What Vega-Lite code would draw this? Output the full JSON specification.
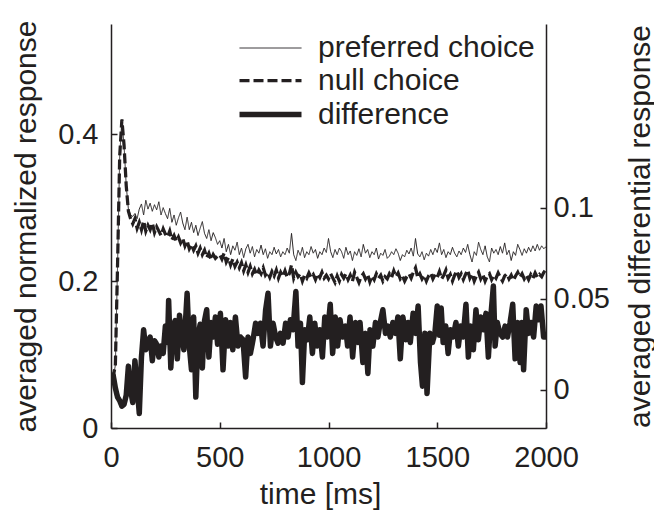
{
"$schema": "https://vega.github.io/schema/vega-lite/v6.json",
"width": 435, "height": 404,
"autosize": {"type": "none"},
"padding": {"left": 111, "top": 24, "right": 108, "bottom": 84},
"background": "white",
"config": {
  "font": "Liberation Sans",
  "view": {"stroke": null},
  "axis": {"domainColor": "#231f20", "tickColor": "#231f20", "labelColor": "#231f20", "titleColor": "#231f20", "grid": false, "labelFontSize": 29, "titleFontSize": 30, "titleFontWeight": "normal", "domainWidth": 1.5, "tickWidth": 1.5, "labelFont": "Liberation Sans", "titleFont": "Liberation Sans"},
  "legend": {"labelFont": "Liberation Sans"}
},
"datasets": {
"pn": [
{"t":0,"p":0.072,"n":0.072},{"t":10,"p":0.07,"n":0.07},{"t":20,"p":0.085,"n":0.085},{"t":30,"p":0.22,"n":0.22},{"t":40,"p":0.37,"n":0.37},{"t":50,"p":0.42,"n":0.42},{"t":60,"p":0.385,"n":0.385},{"t":70,"p":0.33,"n":0.33},{"t":80,"p":0.298,"n":0.295},{"t":90,"p":0.29,"n":0.285},
{"t":100,"p":0.288,"n":0.278},{"t":110,"p":0.292,"n":0.285},{"t":120,"p":0.285,"n":0.272},{"t":130,"p":0.298,"n":0.28},{"t":140,"p":0.305,"n":0.27},{"t":150,"p":0.29,"n":0.282},{"t":160,"p":0.31,"n":0.268},{"t":170,"p":0.298,"n":0.276},{"t":180,"p":0.306,"n":0.27},{"t":190,"p":0.295,"n":0.279},
{"t":200,"p":0.304,"n":0.266},{"t":210,"p":0.297,"n":0.274},{"t":220,"p":0.308,"n":0.268},{"t":230,"p":0.29,"n":0.262},{"t":240,"p":0.3,"n":0.271},{"t":250,"p":0.292,"n":0.264},{"t":260,"p":0.285,"n":0.26},{"t":270,"p":0.299,"n":0.268},{"t":280,"p":0.28,"n":0.256},{"t":290,"p":0.29,"n":0.262},
{"t":300,"p":0.276,"n":0.254},{"t":310,"p":0.286,"n":0.26},{"t":320,"p":0.294,"n":0.252},{"t":330,"p":0.279,"n":0.258},{"t":340,"p":0.27,"n":0.248},{"t":350,"p":0.287,"n":0.255},{"t":360,"p":0.27,"n":0.244},{"t":370,"p":0.28,"n":0.25},{"t":380,"p":0.266,"n":0.242},{"t":390,"p":0.276,"n":0.248},
{"t":400,"p":0.262,"n":0.238},{"t":410,"p":0.272,"n":0.245},{"t":420,"p":0.281,"n":0.236},{"t":430,"p":0.265,"n":0.242},{"t":440,"p":0.258,"n":0.232},{"t":450,"p":0.27,"n":0.238},{"t":460,"p":0.255,"n":0.229},{"t":470,"p":0.266,"n":0.236},{"t":480,"p":0.259,"n":0.231},{"t":490,"p":0.25,"n":0.234},
{"t":500,"p":0.255,"n":0.236},{"t":510,"p":0.245,"n":0.23},{"t":520,"p":0.258,"n":0.238},{"t":530,"p":0.24,"n":0.226},{"t":540,"p":0.25,"n":0.232},{"t":550,"p":0.236,"n":0.222},{"t":560,"p":0.248,"n":0.23},{"t":570,"p":0.242,"n":0.22},{"t":580,"p":0.253,"n":0.226},{"t":590,"p":0.236,"n":0.218},
{"t":600,"p":0.245,"n":0.225},{"t":610,"p":0.232,"n":0.214},{"t":620,"p":0.244,"n":0.222},{"t":630,"p":0.25,"n":0.212},{"t":640,"p":0.238,"n":0.22},{"t":650,"p":0.247,"n":0.21},{"t":660,"p":0.233,"n":0.216},{"t":670,"p":0.243,"n":0.208},{"t":680,"p":0.238,"n":0.215},{"t":690,"p":0.249,"n":0.21},
{"t":700,"p":0.236,"n":0.218},{"t":710,"p":0.244,"n":0.208},{"t":720,"p":0.231,"n":0.212},{"t":730,"p":0.24,"n":0.205},{"t":740,"p":0.236,"n":0.213},{"t":750,"p":0.246,"n":0.207},{"t":760,"p":0.237,"n":0.215},{"t":770,"p":0.243,"n":0.204},{"t":780,"p":0.233,"n":0.212},{"t":790,"p":0.24,"n":0.206},
{"t":800,"p":0.236,"n":0.214},{"t":810,"p":0.245,"n":0.205},{"t":820,"p":0.238,"n":0.21},{"t":830,"p":0.265,"n":0.222},{"t":840,"p":0.236,"n":0.204},{"t":850,"p":0.228,"n":0.212},{"t":860,"p":0.242,"n":0.206},{"t":870,"p":0.235,"n":0.21},{"t":880,"p":0.246,"n":0.2},{"t":890,"p":0.232,"n":0.208},
{"t":900,"p":0.24,"n":0.204},{"t":910,"p":0.236,"n":0.211},{"t":920,"p":0.247,"n":0.205},{"t":930,"p":0.238,"n":0.209},{"t":940,"p":0.243,"n":0.202},{"t":950,"p":0.231,"n":0.21},{"t":960,"p":0.24,"n":0.205},{"t":970,"p":0.236,"n":0.212},{"t":980,"p":0.245,"n":0.204},{"t":990,"p":0.239,"n":0.208},
{"t":1000,"p":0.258,"n":0.203},{"t":1010,"p":0.24,"n":0.21},{"t":1020,"p":0.232,"n":0.204},{"t":1030,"p":0.243,"n":0.198},{"t":1040,"p":0.236,"n":0.207},{"t":1050,"p":0.245,"n":0.2},{"t":1060,"p":0.24,"n":0.209},{"t":1070,"p":0.231,"n":0.204},{"t":1080,"p":0.246,"n":0.21},{"t":1090,"p":0.236,"n":0.202},
{"t":1100,"p":0.241,"n":0.208},{"t":1110,"p":0.228,"n":0.2},{"t":1120,"p":0.24,"n":0.212},{"t":1130,"p":0.235,"n":0.205},{"t":1140,"p":0.244,"n":0.198},{"t":1150,"p":0.233,"n":0.206},{"t":1160,"p":0.25,"n":0.21},{"t":1170,"p":0.238,"n":0.203},{"t":1180,"p":0.243,"n":0.209},{"t":1190,"p":0.232,"n":0.199},
{"t":1200,"p":0.24,"n":0.207},{"t":1210,"p":0.236,"n":0.202},{"t":1220,"p":0.245,"n":0.21},{"t":1230,"p":0.23,"n":0.204},{"t":1240,"p":0.238,"n":0.208},{"t":1250,"p":0.235,"n":0.2},{"t":1260,"p":0.243,"n":0.206},{"t":1270,"p":0.231,"n":0.203},{"t":1280,"p":0.234,"n":0.21},{"t":1290,"p":0.24,"n":0.205},
{"t":1300,"p":0.236,"n":0.214},{"t":1310,"p":0.244,"n":0.206},{"t":1320,"p":0.238,"n":0.211},{"t":1330,"p":0.228,"n":0.203},{"t":1340,"p":0.236,"n":0.207},{"t":1350,"p":0.233,"n":0.2},{"t":1360,"p":0.242,"n":0.206},{"t":1370,"p":0.237,"n":0.21},{"t":1380,"p":0.245,"n":0.204},{"t":1390,"p":0.234,"n":0.212},
{"t":1400,"p":0.258,"n":0.218},{"t":1410,"p":0.237,"n":0.205},{"t":1420,"p":0.233,"n":0.21},{"t":1430,"p":0.24,"n":0.203},{"t":1440,"p":0.229,"n":0.208},{"t":1450,"p":0.238,"n":0.2},{"t":1460,"p":0.234,"n":0.207},{"t":1470,"p":0.243,"n":0.211},{"t":1480,"p":0.236,"n":0.203},{"t":1490,"p":0.245,"n":0.209},
{"t":1500,"p":0.239,"n":0.205},{"t":1510,"p":0.252,"n":0.213},{"t":1520,"p":0.236,"n":0.203},{"t":1530,"p":0.243,"n":0.208},{"t":1540,"p":0.232,"n":0.215},{"t":1550,"p":0.24,"n":0.204},{"t":1560,"p":0.236,"n":0.209},{"t":1570,"p":0.246,"n":0.2},{"t":1580,"p":0.238,"n":0.208},{"t":1590,"p":0.233,"n":0.214},
{"t":1600,"p":0.241,"n":0.205},{"t":1610,"p":0.236,"n":0.21},{"t":1620,"p":0.245,"n":0.202},{"t":1630,"p":0.239,"n":0.209},{"t":1640,"p":0.25,"n":0.215},{"t":1650,"p":0.236,"n":0.204},{"t":1660,"p":0.226,"n":0.21},{"t":1670,"p":0.24,"n":0.2},{"t":1680,"p":0.235,"n":0.207},{"t":1690,"p":0.253,"n":0.212},
{"t":1700,"p":0.243,"n":0.203},{"t":1710,"p":0.236,"n":0.209},{"t":1720,"p":0.248,"n":0.2},{"t":1730,"p":0.233,"n":0.207},{"t":1740,"p":0.226,"n":0.21},{"t":1750,"p":0.245,"n":0.202},{"t":1760,"p":0.238,"n":0.208},{"t":1770,"p":0.243,"n":0.204},{"t":1780,"p":0.236,"n":0.211},{"t":1790,"p":0.247,"n":0.205},
{"t":1800,"p":0.238,"n":0.2},{"t":1810,"p":0.252,"n":0.207},{"t":1820,"p":0.236,"n":0.21},{"t":1830,"p":0.242,"n":0.203},{"t":1840,"p":0.228,"n":0.208},{"t":1850,"p":0.24,"n":0.201},{"t":1860,"p":0.235,"n":0.207},{"t":1870,"p":0.25,"n":0.212},{"t":1880,"p":0.243,"n":0.205},{"t":1890,"p":0.235,"n":0.21},
{"t":1900,"p":0.244,"n":0.203},{"t":1910,"p":0.238,"n":0.208},{"t":1920,"p":0.246,"n":0.202},{"t":1930,"p":0.24,"n":0.209},{"t":1940,"p":0.248,"n":0.204},{"t":1950,"p":0.241,"n":0.211},{"t":1960,"p":0.25,"n":0.205},{"t":1970,"p":0.242,"n":0.209},{"t":1980,"p":0.248,"n":0.206},{"t":1990,"p":0.244,"n":0.212},
{"t":2000,"p":0.247,"n":0.216}
],
"diff": [
{"t":0,"d":0.007},{"t":10,"d":0.008},{"t":20,"d":0.001},{"t":30,"d":-0.004},{"t":40,"d":-0.006},{"t":50,"d":-0.009},{"t":60,"d":-0.008},{"t":70,"d":-0.003},{"t":80,"d":0.013},{"t":90,"d":0.0},
{"t":100,"d":-0.007},{"t":110,"d":0.016},{"t":120,"d":0.002},{"t":130,"d":-0.013},{"t":140,"d":0.018},{"t":150,"d":0.033},{"t":160,"d":0.022},{"t":170,"d":0.026},{"t":180,"d":0.029},{"t":190,"d":0.016},
{"t":200,"d":0.027},{"t":210,"d":0.025},{"t":220,"d":0.018},{"t":230,"d":0.024},{"t":240,"d":0.02},{"t":250,"d":0.035},{"t":260,"d":0.026},{"t":265,"d":0.049},{"t":275,"d":0.012},{"t":285,"d":0.035},
{"t":295,"d":0.038},{"t":305,"d":0.017},{"t":315,"d":0.041},{"t":325,"d":0.03},{"t":335,"d":0.022},{"t":350,"d":0.053},{"t":360,"d":0.024},{"t":370,"d":0.011},{"t":380,"d":0.04},{"t":390,"d":-0.004},
{"t":400,"d":0.03},{"t":410,"d":0.036},{"t":420,"d":0.012},{"t":430,"d":0.038},{"t":440,"d":0.044},{"t":450,"d":0.018},{"t":460,"d":0.037},{"t":470,"d":0.029},{"t":480,"d":0.04},{"t":490,"d":0.025},
{"t":503,"d":0.042},{"t":515,"d":0.011},{"t":527,"d":0.0385},{"t":538,"d":0.024},{"t":549,"d":0.037},{"t":560,"d":0.022},{"t":572,"d":0.04},{"t":584,"d":0.024},{"t":595,"d":0.029},{"t":607,"d":0.0275},
{"t":619,"d":0.007},{"t":630,"d":0.029},{"t":641,"d":0.02},{"t":653,"d":0.0275},{"t":665,"d":0.0366},{"t":676,"d":0.031},{"t":687,"d":0.0366},{"t":699,"d":0.024},{"t":711,"d":0.044},{"t":722,"d":0.053},
{"t":733,"d":0.024},{"t":745,"d":0.0366},{"t":757,"d":0.029},{"t":768,"d":0.0256},{"t":779,"d":0.031},{"t":791,"d":0.0256},{"t":803,"d":0.0366},{"t":814,"d":0.029},{"t":825,"d":0.0385},{"t":837,"d":0.033},
{"t":850,"d":0.054},{"t":860,"d":0.024},{"t":871,"d":0.0366},{"t":880,"d":0.004},{"t":891,"d":0.033},{"t":903,"d":0.0275},{"t":914,"d":0.04},{"t":926,"d":0.02},{"t":937,"d":0.0366},{"t":948,"d":0.024},
{"t":960,"d":0.033},{"t":972,"d":0.018},{"t":983,"d":0.04},{"t":994,"d":0.029},{"t":1008,"d":0.047},{"t":1019,"d":0.02},{"t":1031,"d":0.04},{"t":1042,"d":0.024},{"t":1053,"d":0.0385},{"t":1065,"d":0.029},
{"t":1078,"d":0.035},{"t":1088,"d":0.024},{"t":1099,"d":0.04},{"t":1111,"d":0.018},{"t":1124,"d":0.037},{"t":1135,"d":0.026},{"t":1145,"d":0.037},{"t":1158,"d":0.015},{"t":1170,"d":0.031},{"t":1181,"d":0.009},
{"t":1191,"d":0.033},{"t":1204,"d":0.024},{"t":1216,"d":0.037},{"t":1227,"d":0.029},{"t":1238,"d":0.037},{"t":1250,"d":0.044},{"t":1262,"d":0.031},{"t":1273,"d":0.035},{"t":1284,"d":0.029},{"t":1296,"d":0.037},
{"t":1308,"d":0.031},{"t":1319,"d":0.04},{"t":1330,"d":0.017},{"t":1342,"d":0.04},{"t":1355,"d":0.0275},{"t":1366,"d":0.037},{"t":1376,"d":0.026},{"t":1389,"d":0.042},{"t":1401,"d":0.031},{"t":1412,"d":0.046},
{"t":1423,"d":0.015},{"t":1432,"d":0.002},{"t":1443,"d":0.031},{"t":1453,"d":-0.002},{"t":1466,"d":0.031},{"t":1478,"d":0.026},{"t":1489,"d":0.031},{"t":1500,"d":0.046},{"t":1510,"d":0.03},{"t":1518,"d":0.045},
{"t":1527,"d":0.026},{"t":1539,"d":0.035},{"t":1550,"d":0.02},{"t":1561,"d":0.033},{"t":1573,"d":0.029},{"t":1586,"d":0.037},{"t":1597,"d":0.024},{"t":1608,"d":0.035},{"t":1619,"d":0.029},{"t":1632,"d":0.047},
{"t":1643,"d":0.018},{"t":1653,"d":0.035},{"t":1666,"d":0.022},{"t":1678,"d":0.044},{"t":1689,"d":0.0275},{"t":1700,"d":0.04},{"t":1712,"d":0.033},{"t":1724,"d":0.042},{"t":1735,"d":0.018},{"t":1746,"d":0.04},
{"t":1758,"d":0.057},{"t":1766,"d":0.024},{"t":1776,"d":0.037},{"t":1788,"d":0.031},{"t":1801,"d":0.029},{"t":1812,"d":0.035},{"t":1823,"d":0.029},{"t":1835,"d":0.037},{"t":1847,"d":0.047},{"t":1858,"d":0.017},
{"t":1869,"d":0.037},{"t":1881,"d":0.015},{"t":1889,"d":0.037},{"t":1897,"d":0.011},{"t":1909,"d":0.044},{"t":1920,"d":0.031},{"t":1931,"d":0.037},{"t":1943,"d":0.029},{"t":1955,"d":0.046},{"t":1966,"d":0.0385},
{"t":1977,"d":0.046},{"t":1989,"d":0.029},{"t":2000,"d":0.029}
]
},
"layer": [
  {
    "layer": [
      {
        "data": {"name": "pn"},
        "transform": [{"fold": ["p", "n"], "as": ["series", "value"]}],
        "mark": {"type": "line", "color": "#231f20", "clip": true},
        "encoding": {
          "x": {"field": "t", "type": "quantitative", "scale": {"domain": [0, 2000], "nice": false},
                "axis": {"values": [0, 500, 1000, 1500, 2000], "format": "d", "offset": -6, "tickSize": 6, "domain": false, "labelPadding": 38, "labelBaseline": "alphabetic", "labelFlush": false, "labelOverlap": false, "title": "time [ms]", "titleX": 209, "titleY": 81, "titleBaseline": "alphabetic", "titleAlign": "center"}},
          "y": {"field": "value", "type": "quantitative", "scale": {"domain": [0, 0.55], "nice": false},
                "axis": {"values": [0, 0.2, 0.4], "format": "~g", "offset": -6, "tickSize": 6, "domain": false, "labelPadding": 13, "title": "averaged normalized response", "titleAngle": -90, "titleX": -82, "titleY": 202, "titleBaseline": "alphabetic", "titleAlign": "center"}},
          "strokeDash": {"field": "series", "type": "ordinal", "scale": {"domain": ["p", "n", "d"], "range": [[1, 0], [10, 4], [1, 0]]},
                "legend": {"orient": "none", "legendX": 141, "legendY": 8, "title": null, "symbolType": "M-2,0H2", "symbolSize": 961, "labelFontSize": 30, "labelOffset": 29, "rowPadding": 0, "labelLimit": 400, "labelColor": "#231f20", "labelExpr": "datum.label == 'p' ? 'preferred choice' : datum.label == 'n' ? 'null choice' : 'difference'"}},
          "strokeWidth": {"field": "series", "type": "ordinal", "scale": {"domain": ["p", "n", "d"], "range": [1, 5.5, 5]},
                "legend": {"orient": "none", "legendX": 141, "legendY": 8, "title": null, "symbolType": "M-2,0H2", "symbolSize": 961, "labelFontSize": 30, "labelOffset": 29, "rowPadding": 0, "labelLimit": 400, "labelColor": "#231f20", "labelExpr": "datum.label == 'p' ? 'preferred choice' : datum.label == 'n' ? 'null choice' : 'difference'"}}
        }
      },
      {
        "mark": {"type": "text", "align": "left", "baseline": "middle", "fontSize": 30, "font": "Liberation Sans", "color": "#231f20"},
        "encoding": {"x": {"datum": 145, "type": "quantitative"},
                     "y": {"datum": 0.516, "type": "quantitative", "axis": {"orient": "left", "domain": true, "ticks": false, "labels": false, "title": null}},
                     "text": {"value": "V2"}}
      },
      {
        "mark": {"type": "text", "align": "left", "baseline": "middle", "fontSize": 30, "font": "Liberation Sans", "color": "#231f20"},
        "encoding": {"x": {"datum": 145, "type": "quantitative"}, "y": {"datum": 0.465, "type": "quantitative", "axis": null}, "text": {"value": "n=69"}}
      }
    ],
    "resolve": {"axis": {"y": "independent"}}
  },
  {
    "data": {"name": "diff"},
    "layer": [
      {
        "mark": {"type": "line", "color": "#231f20", "clip": true, "strokeJoin": "round"},
        "encoding": {
          "x": {"field": "t", "type": "quantitative", "axis": {"orient": "bottom", "domain": true, "ticks": false, "labels": false, "title": null}},
          "y": {"field": "d", "type": "quantitative", "scale": {"domain": [-0.021, 0.201], "nice": false},
                "axis": {"orient": "right", "values": [0, 0.05, 0.1], "format": "~g", "offset": -6, "tickSize": 6, "domain": false, "labelPadding": 7, "title": "averaged differential response", "titleAngle": 270, "titleX": 109, "titleY": 202, "titleBaseline": "alphabetic", "titleAlign": "center"}},
          "strokeDash": {"datum": "d", "type": "ordinal"},
          "strokeWidth": {"datum": "d", "type": "ordinal"}
        }
      },
      {
        "mark": {"type": "line", "opacity": 0},
        "encoding": {
          "x": {"field": "t", "type": "quantitative", "axis": {"orient": "bottom", "domain": true, "ticks": false, "labels": false, "title": null}},
          "y": {"field": "d", "type": "quantitative", "axis": {"orient": "right", "domain": true, "ticks": false, "labels": false, "title": null}}
        }
      }
    ],
    "resolve": {"axis": {"y": "independent"}}
  }
],
"resolve": {"scale": {"y": "independent"}, "axis": {"x": "independent"}}
}
